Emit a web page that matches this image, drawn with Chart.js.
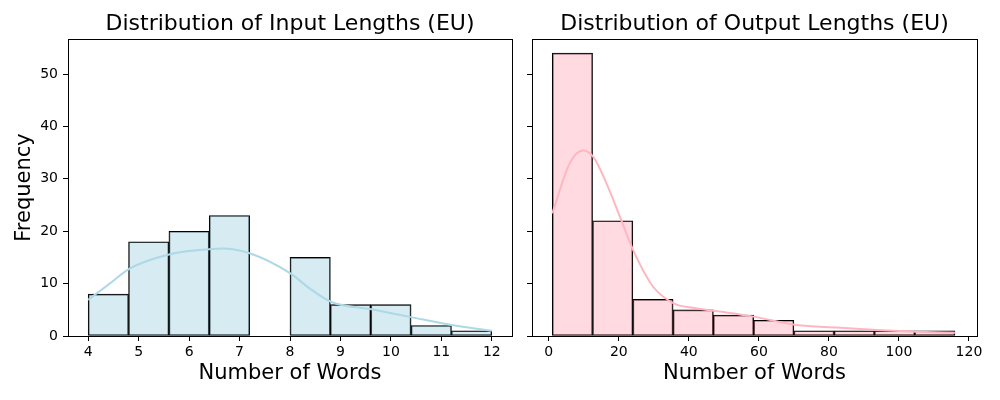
<!DOCTYPE html>
<html>
<head>
<meta charset="utf-8">
<script src="https://cdn.jsdelivr.net/npm/chart.js@4"></script>
<style>
body { margin: 0; background: #fff; width: 1000px; height: 400px; position: relative; overflow: hidden; }
canvas { position: absolute; top: 0; }
</style>
</head>
<body>
<canvas id="inChart" width="522" height="400" style="left:0"></canvas>
<canvas id="outChart" width="478" height="400" style="left:522px"></canvas>
<script>
// input lengths: bin centres (bin width 0.8) and counts
var inBins = [4.4, 5.2, 6.0, 6.8, 7.6, 8.4, 9.2, 10.0, 10.8, 11.6];
var inCounts = [8, 18, 20, 23, 0, 15, 6, 6, 2, 1];
// kde curve
var inKdeX = [4.0, 4.4, 4.83, 5.62, 6.2, 6.65, 7.2, 8.0, 8.4, 8.82, 9.62, 10.4, 11.2, 12.0];
var inKdeY = [6.9, 9.8, 12.9, 15.6, 16.4, 16.7, 15.8, 12.0, 9.0, 6.5, 5.1, 3.6, 2.1, 1.0];

// output lengths: bin centres (bin width 11.5) and counts
var outBins = [6.75, 18.25, 29.75, 41.25, 52.75, 64.25, 75.75, 87.25, 98.75, 110.25];
var outCounts = [54, 22, 7, 5, 4, 3, 1, 1, 1, 1];
var outKdeX = [1, 6, 9.8, 12.7, 16.5, 20.3, 24.1, 29.8, 35.8, 41.2, 47.2, 58.4, 70.8, 82.2, 93.6, 105, 116];
var outKdeY = [23.4, 33, 35.4, 34.2, 29.1, 22.8, 16.4, 9.4, 6.2, 5.4, 4.8, 3.7, 2.1, 1.6, 1.15, 0.8, 0.6];

// tick labels
var inTicks = [4, 5, 6, 7, 8, 9, 10, 11, 12];
var outTicks = [0, 20, 40, 60, 80, 100, 120];
var yTicks = [0, 10, 20, 30, 40, 50];

Chart.defaults.font.family = "'DejaVu Sans', sans-serif";
Chart.defaults.color = '#000';

// black frame round the plot area and a title centred on it
var framePlugin = {
    id: 'frame',
    afterDatasetsDraw: function(chart, args, opts) {
        var a = chart.chartArea, c = chart.ctx;
        c.save();
        c.strokeStyle = '#000';
        c.lineWidth = 1;
        c.strokeRect(Math.round(a.left) + 0.5, Math.round(a.top) + 0.5,
            Math.round(a.right - a.left), Math.round(a.bottom - a.top));
        c.fillStyle = '#000';
        c.font = "22px 'DejaVu Sans'";
        c.textAlign = 'center';
        c.textBaseline = 'middle';
        c.fillText(opts.text, (a.left + a.right) / 2, 24);
        c.restore();
    }
};

function pairs(xs, ys) {
    return xs.map(function(x, i) { return { x: x, y: ys[i] }; });
}

function makeChart(id, opt) {
    return new Chart(document.getElementById(id), {
        type: 'bar',
        data: {
            datasets: [{
                type: 'line',
                data: pairs(opt.kdeX, opt.kdeY),
                borderColor: opt.line,
                borderWidth: 2,
                pointRadius: 0,
                cubicInterpolationMode: 'monotone',
                order: 0
            }, {
                data: pairs(opt.bins, opt.counts),
                backgroundColor: opt.fill,
                borderColor: '#000',
                borderWidth: 1,
                borderSkipped: false,
                barPercentage: 1,
                categoryPercentage: 1,
                order: 1
            }]
        },
        options: {
            responsive: false,
            animation: false,
            layout: { padding: { top: 39, right: opt.padRight } },
            plugins: {
                legend: { display: false },
                tooltip: { enabled: false },
                frame: { text: opt.title }
            },
            scales: {
                x: {
                    type: 'linear',
                    offset: false,
                    min: opt.xMin,
                    max: opt.xMax,
                    afterBuildTicks: function(s) { s.ticks = opt.ticks.map(function(v) { return { value: v }; }); },
                    afterFit: function(s) { s.height = 64; },
                    grid: { offset: false, drawOnChartArea: false, drawTicks: true, tickLength: 5, color: '#000' },
                    border: { display: true, color: '#000' },
                    ticks: { font: { size: 14 }, padding: 3, maxRotation: 0 },
                    title: { display: true, text: 'Number of Words', font: { size: 21 }, padding: { top: 13.4, bottom: 13.4 } }
                },
                y: {
                    min: 0,
                    max: 56.7,
                    afterBuildTicks: function(s) { s.ticks = yTicks.map(function(v) { return { value: v }; }); },
                    afterFit: function(s) { s.width = opt.yWidth; },
                    grid: { drawOnChartArea: false, drawTicks: true, tickLength: 5, color: '#000' },
                    border: { display: true, color: '#000' },
                    ticks: { display: opt.showY, font: { size: 14 }, padding: 5 },
                    title: { display: opt.showY, text: 'Frequency', font: { size: 21 }, padding: { top: 12.4, bottom: 12.4 } }
                }
            }
        },
        plugins: [framePlugin]
    });
}

makeChart('inChart', {
    bins: inBins, counts: inCounts, kdeX: inKdeX, kdeY: inKdeY,
    ticks: inTicks, xMin: 3.6, xMax: 12.4,
    fill: 'rgba(173, 216, 230, 0.5)', line: '#add8e6',
    title: 'Distribution of Input Lengths (EU)',
    yWidth: 68, padRight: 10, showY: true
});

makeChart('outChart', {
    bins: outBins, counts: outCounts, kdeX: outKdeX, kdeY: outKdeY,
    ticks: outTicks, xMin: -4.8, xMax: 122.3,
    fill: 'rgba(255, 182, 193, 0.5)', line: '#ffb6c1',
    title: 'Distribution of Output Lengths (EU)',
    yWidth: 10, padRight: 23, showY: false
});
</script>
</body>
</html>
